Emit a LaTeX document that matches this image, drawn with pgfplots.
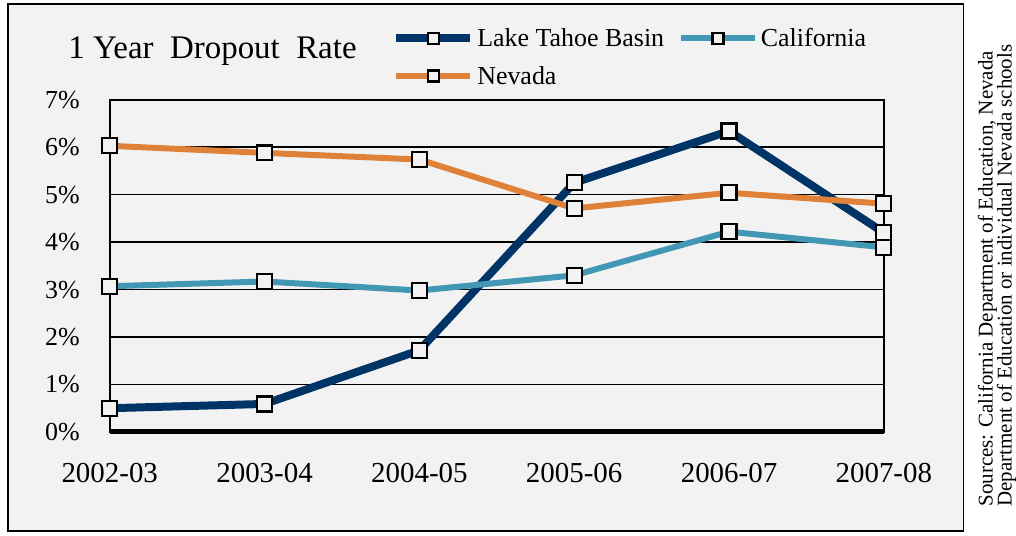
\documentclass[border=0pt]{standalone}
\usepackage{fontspec}
\setmainfont{Liberation Serif}
\usepackage{pgfplots}
\pgfplotsset{compat=1.18}
\definecolor{bgray}{HTML}{F2F2F2}
\definecolor{tahoe}{HTML}{003466}
\definecolor{calif}{HTML}{4298B4}
\definecolor{nevada}{HTML}{DF8139}

\begin{document}
\begin{tikzpicture}[x=1pt,y=1pt]
\fill[white] (0,0) rectangle (1016,537);
\draw[line width=1.6pt, fill=bgray] (8,5) rectangle (966,533);
\node[anchor=base, font=\fontsize{33}{36}\selectfont] at (213,478) {1 Year\ \ Dropout\ \ Rate};
\node[anchor=base west, rotate=90, inner sep=0pt, font=\fontsize{21}{24}\selectfont] at (995,29) {Sources: California Department of Education, Nevada};
\node[anchor=base west, rotate=90, inner sep=0pt, font=\fontsize{21}{24}\selectfont] at (1014,29) {Department of Education or individual Nevada schools};
\begin{axis}[
  at={(110pt,104pt)}, anchor=south west,
  scale only axis, width=776pt, height=333pt,
  xmin=0, xmax=5, ymin=0, ymax=7,
  clip=false,
  axis line style={line width=2pt, black},
  xtick={0,1,2,3,4,5},
  xticklabels={2002-03,2003-04,2004-05,2005-06,2006-07,2007-08},
  ytick={0,1,2,3,4,5,6,7},
  yticklabels={0\%,1\%,2\%,3\%,4\%,5\%,6\%,7\%},
  major tick length=0pt,
  ymajorgrids, grid style={black, line width=1.5pt},
  xticklabel style={font=\fontsize{29}{32}\selectfont, inner ysep=0pt, yshift=-31pt},
  yticklabel style={font=\fontsize{26}{30}\selectfont, inner xsep=0pt, xshift=-30pt},
  every axis plot/.append style={mark=square*, mark options={fill=bgray, draw=black, line width=2.2pt, solid}, mark size=7.5pt},
  legend style={at={(0.365,1.227)}, anchor=north west, draw=none, fill=none,
    font=\fontsize{26}{28}\selectfont, legend columns=2, inner sep=0pt,
    /tikz/every even column/.append style={column sep=11pt},
    nodes={inner xsep=3pt, inner ysep=4pt}, row sep=10pt},
  legend cell align=left,
  legend image code/.code={\draw[#1, mark size=5.5pt, mark repeat=2, mark phase=2] plot coordinates {(0pt,0pt) (37pt,0pt) (74pt,0pt)};},
]
\addplot[tahoe, line width=8pt] coordinates {(0,0.50) (1,0.59) (2,1.72) (3,5.25) (4,6.34) (5,4.20)};
\addlegendentry{Lake Tahoe Basin}
\addplot[calif, line width=6pt] coordinates {(0,3.07) (1,3.17) (2,2.98) (3,3.30) (4,4.22) (5,3.89)};
\addlegendentry{California}
\addplot[nevada, line width=6pt] coordinates {(0,6.03) (1,5.88) (2,5.74) (3,4.71) (4,5.04) (5,4.81)};
\addlegendentry{Nevada}
\draw[black, line width=5pt] (rel axis cs:0,0) -- (rel axis cs:1,0);
\end{axis}
\end{tikzpicture}
\end{document}
